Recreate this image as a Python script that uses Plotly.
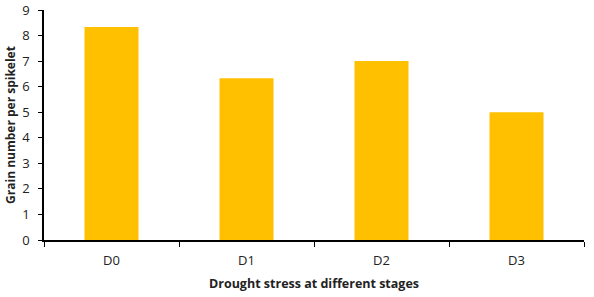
import plotly.graph_objects as go

categories = ["D0", "D1", "D2", "D3"]
values = [8.33, 6.33, 7.0, 5.0]
y_ticks = [0, 1, 2, 3, 4, 5, 6, 7, 8, 9]

fig = go.Figure(go.Bar(x=categories, y=values, marker=dict(color="#FFC000", line=dict(width=0))))

font = dict(family="Open Sans, Liberation Sans, sans-serif", size=13, color="#222222")
fig.update_layout(
    width=594, height=297,
    margin=dict(l=44, r=10, t=10, b=57),
    plot_bgcolor="white", paper_bgcolor="white",
    bargap=0.6,
    font=font,
    showlegend=False,
)
fig.update_xaxes(
    automargin=False,
    showline=True, linecolor="black", linewidth=1.5,
    ticks="outside", tickson="boundaries", ticklen=5, tickcolor="black",
    ticklabelstandoff=8,
    title=dict(text="<b>Drought stress at different stages</b>", standoff=11, font=dict(size=12.5)),
)
fig.update_yaxes(
    automargin=False,
    range=[0, 9], tickvals=y_ticks, showgrid=False, zeroline=False,
    showline=True, linecolor="black", linewidth=1.5,
    ticks="outside", ticklen=4, tickcolor="black",
    ticklabelstandoff=6,
    title=dict(text="<b>Grain number per spikelet</b>", standoff=4, font=dict(size=12)),
)
fig.write_html("out.html")
